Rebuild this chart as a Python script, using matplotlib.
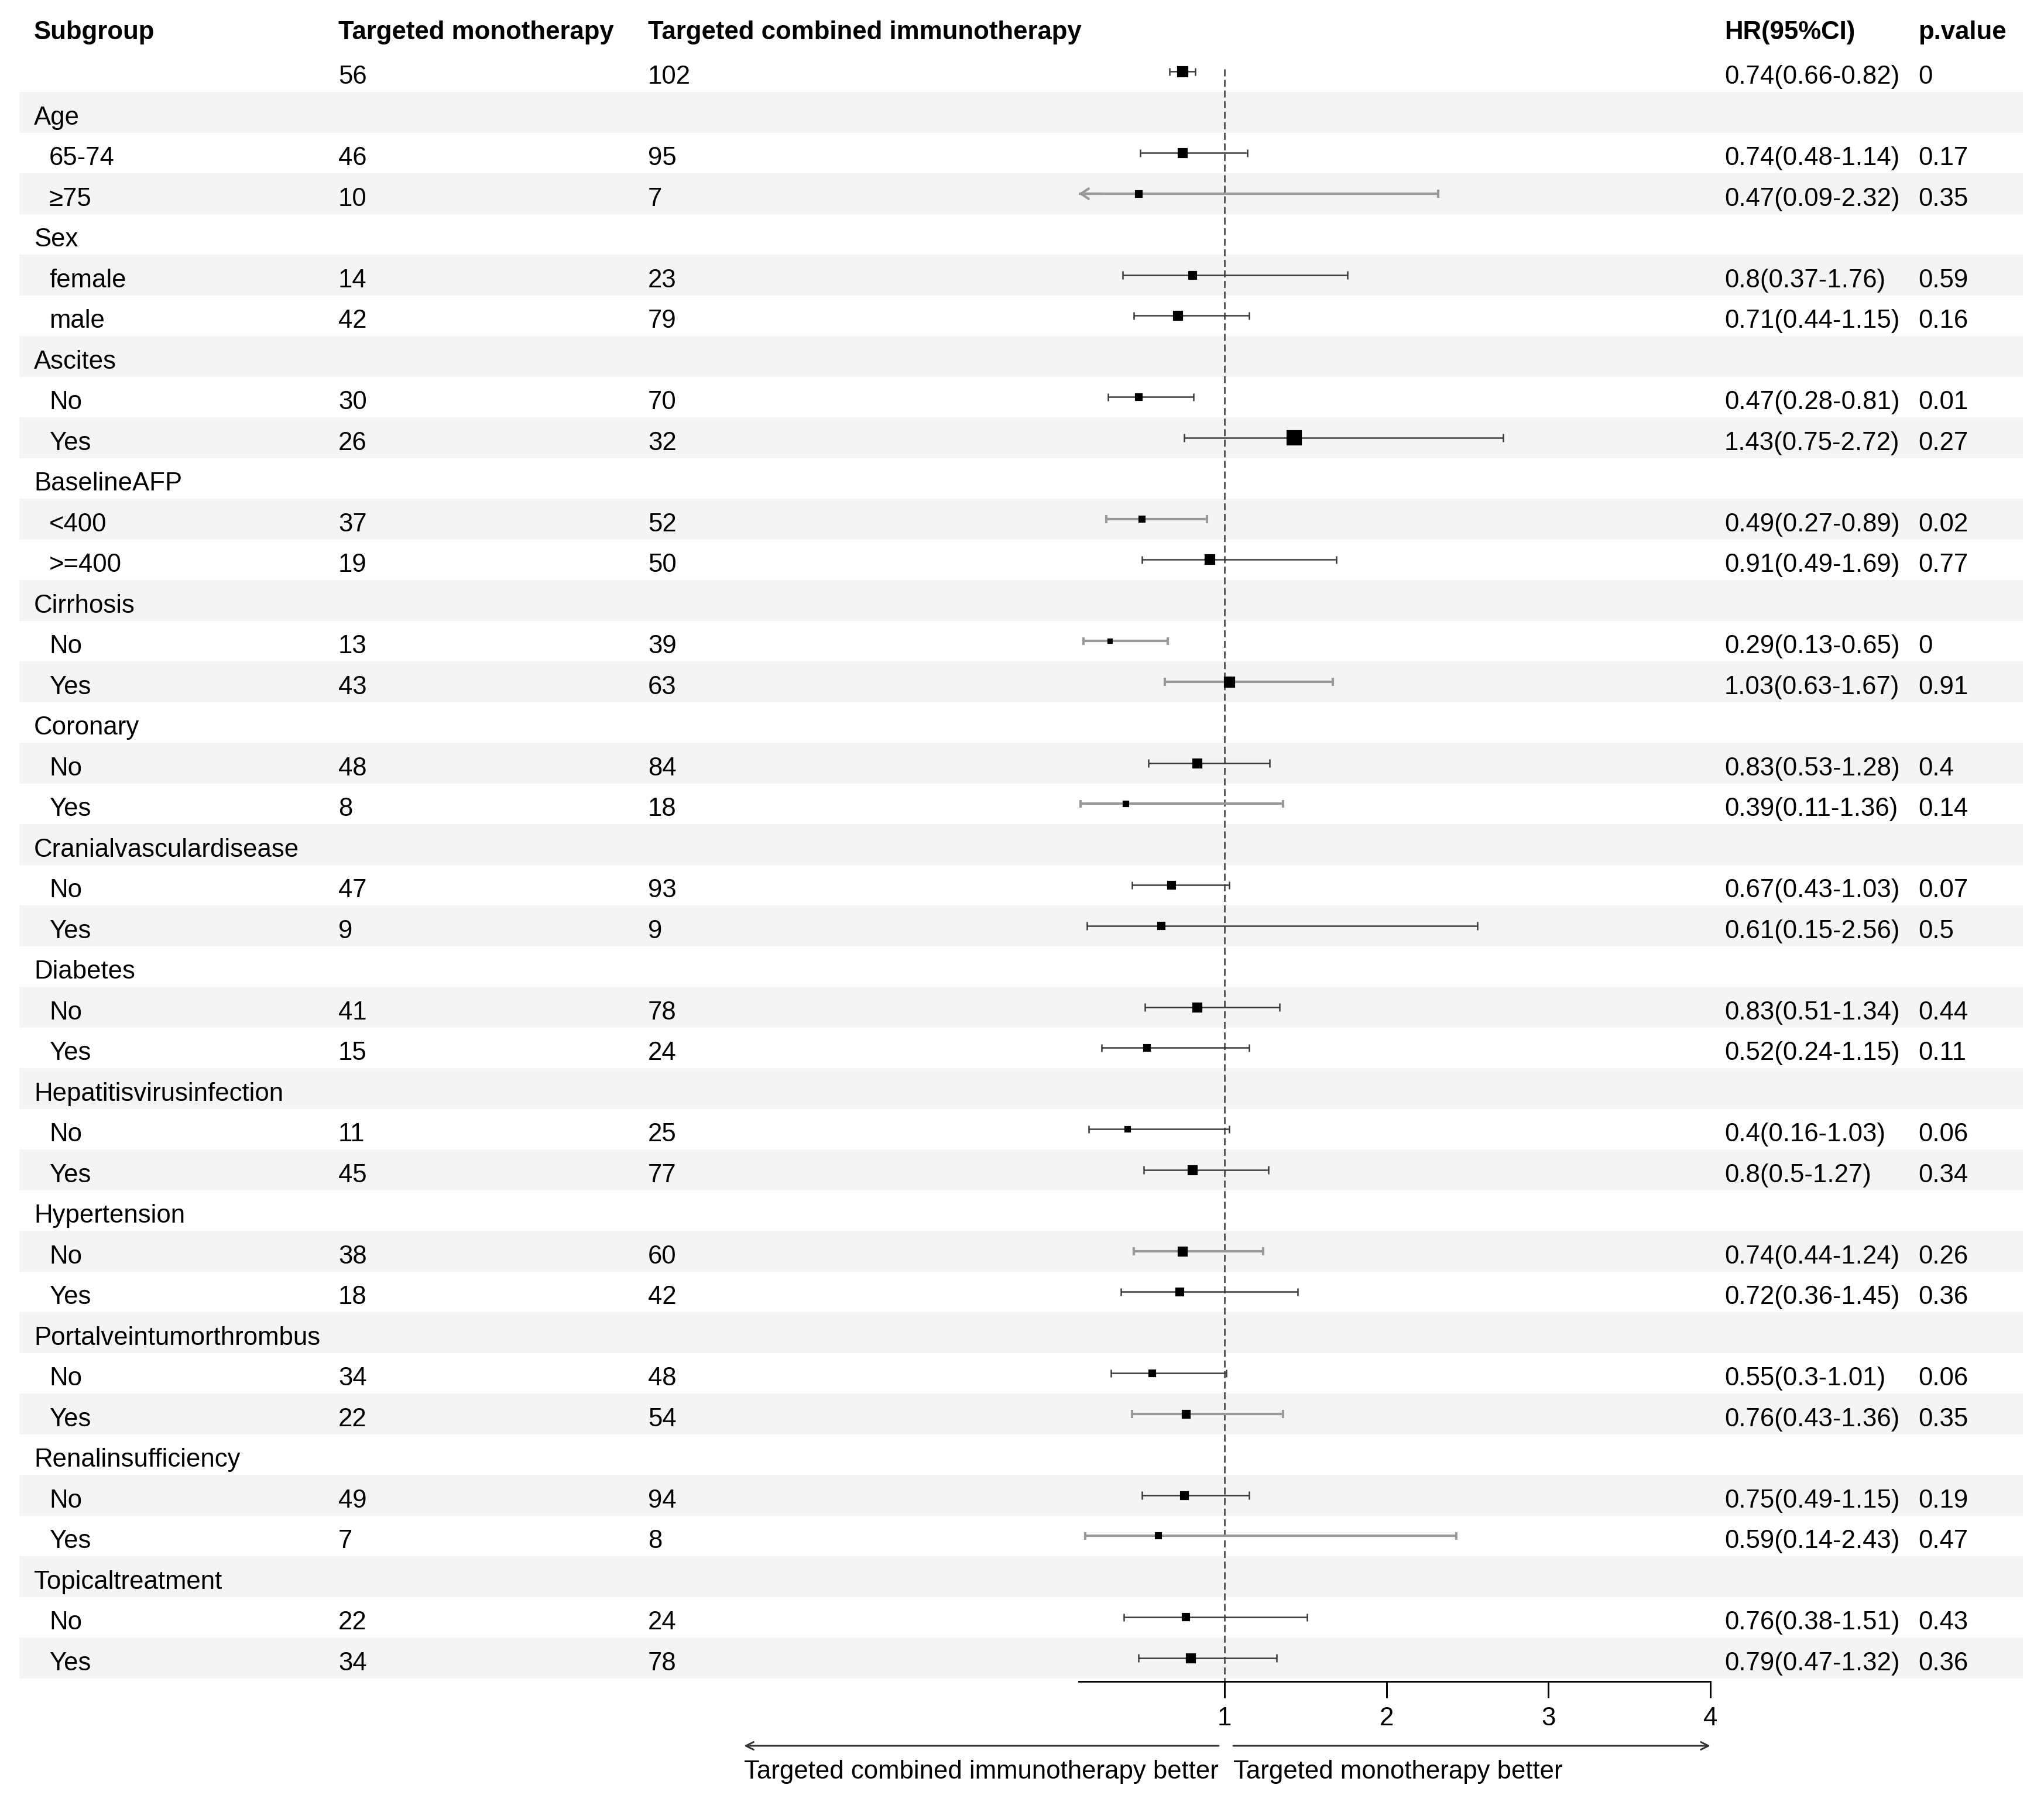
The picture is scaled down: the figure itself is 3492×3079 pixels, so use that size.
import matplotlib
matplotlib.use('Agg')
import matplotlib.pyplot as plt

plt.rcParams['font.family'] = ['Liberation Sans', 'DejaVu Sans']
plt.rcParams['font.size'] = 10.5

# ---- data ----
labels = ['', 'Age', '65-74', '≥75', 'Sex', 'female', 'male',
          'Ascites', 'No', 'Yes', 'BaselineAFP', '<400', '>=400',
          'Cirrhosis', 'No', 'Yes', 'Coronary', 'No', 'Yes',
          'Cranialvasculardisease', 'No', 'Yes', 'Diabetes', 'No', 'Yes',
          'Hepatitisvirusinfection', 'No', 'Yes', 'Hypertension', 'No', 'Yes',
          'Portalveintumorthrombus', 'No', 'Yes', 'Renalinsufficiency', 'No', 'Yes',
          'Topicaltreatment', 'No', 'Yes']
n_mono = [56, None, 46, 10, None, 14, 42, None, 30, 26, None, 37, 19,
          None, 13, 43, None, 48, 8, None, 47, 9, None, 41, 15,
          None, 11, 45, None, 38, 18, None, 34, 22, None, 49, 7, None, 22, 34]
n_combo = [102, None, 95, 7, None, 23, 79, None, 70, 32, None, 52, 50,
           None, 39, 63, None, 84, 18, None, 93, 9, None, 78, 24,
           None, 25, 77, None, 60, 42, None, 48, 54, None, 94, 8, None, 24, 78]
hr = [0.74, None, 0.74, 0.47, None, 0.8, 0.71, None, 0.47, 1.43, None, 0.49, 0.91,
      None, 0.29, 1.03, None, 0.83, 0.39, None, 0.67, 0.61, None, 0.83, 0.52,
      None, 0.4, 0.8, None, 0.74, 0.72, None, 0.55, 0.76, None, 0.75, 0.59, None, 0.76, 0.79]
ci_lo = [0.66, None, 0.48, 0.09, None, 0.37, 0.44, None, 0.28, 0.75, None, 0.27, 0.49,
         None, 0.13, 0.63, None, 0.53, 0.11, None, 0.43, 0.15, None, 0.51, 0.24,
         None, 0.16, 0.5, None, 0.44, 0.36, None, 0.3, 0.43, None, 0.49, 0.14, None, 0.38, 0.47]
ci_hi = [0.82, None, 1.14, 2.32, None, 1.76, 1.15, None, 0.81, 2.72, None, 0.89, 1.69,
         None, 0.65, 1.67, None, 1.28, 1.36, None, 1.03, 2.56, None, 1.34, 1.15,
         None, 1.03, 1.27, None, 1.24, 1.45, None, 1.01, 1.36, None, 1.15, 2.43, None, 1.51, 1.32]
p_value = [0, None, 0.17, 0.35, None, 0.59, 0.16, None, 0.01, 0.27, None, 0.02, 0.77,
           None, 0, 0.91, None, 0.4, 0.14, None, 0.07, 0.5, None, 0.44, 0.11,
           None, 0.06, 0.34, None, 0.26, 0.36, None, 0.06, 0.35, None, 0.19, 0.47, None, 0.43, 0.36]

# box size (px) and line shade for each estimate row, as drawn in the original
box_px = [15, 13, 9, 11, 13, 9, 23, 8, 14, 5, 15, 13, 7, 11, 10,
          13, 9, 7, 13, 13, 11, 9, 11, 11, 8, 10, 13]
light = [0, 0, 1, 0, 0, 0, 0, 1, 0, 1, 1, 0, 1, 0, 0,
         0, 0, 0, 0, 1, 0, 0, 1, 0, 1, 0, 0]

W, H, DPI = 3492, 3079, 300
ROW0, ROWH = 122.5, 69.5          # px centre of first row, row pitch


def row(px):
    return (px - ROW0) / ROWH


XMIN, XMAX = 0.1, 4
fig = plt.figure(figsize=(W / DPI, H / DPI), dpi=DPI)

tab = fig.add_axes([0, 0, 1, 1])
tab.set_xlim(0, W)
tab.set_ylim(row(H), row(0))
tab.axis('off')

# shaded bands
for i in range(len(labels)):
    if i % 2 == 1:
        tab.axhspan(i - 0.5, i + 0.5, xmin=33 / W, xmax=3456 / W,
                    color='#F3F5F5', lw=0, zorder=0)

# header
hy = row(67)
for x, s in [(58, 'Subgroup'), (578, 'Targeted monotherapy'),
             (1107, 'Targeted combined immunotherapy'),
             (2946, 'HR(95%CI)'), (3277, 'p.value')]:
    tab.text(x, hy, s, fontweight='bold', va='baseline', ha='left')

base = 0.30
for i, lab in enumerate(labels):
    y = i + base
    x_lab = 84 if hr[i] is not None else 58
    tab.text(x_lab, y, lab, va='baseline')
    if n_mono[i] is not None:
        tab.text(578, y, str(n_mono[i]), va='baseline')
        tab.text(1107, y, str(n_combo[i]), va='baseline')
    if hr[i] is not None:
        tab.text(2946, y, f'{hr[i]:g}({ci_lo[i]:g}-{ci_hi[i]:g})', va='baseline')
        tab.text(3277, y, f'{p_value[i]:g}', va='baseline')

# forest panel
ax = fig.add_axes([1843 / W, 0, 1079 / W, 1])
ax.patch.set_visible(False)
ax.set_xlim(XMIN, XMAX)
ax.set_ylim(row(H), row(0))
axis_row = row(2873)
for s in ['left', 'right', 'top']:
    ax.spines[s].set_visible(False)
ax.spines['bottom'].set_position(('data', axis_row))
ax.spines['bottom'].set_linewidth(0.7)
ax.set_yticks([])
ax.set_xticks([1, 2, 3, 4])
ax.set_xticklabels(['1', '2', '3', '4'])
ax.tick_params(axis='x', direction='out', length=6.7, width=0.7, pad=3.6)

ax.vlines(1, row(118), axis_row, colors='#555555', linewidth=0.7,
          linestyles=(0, (4.1, 2.1)), zorder=1)

cap = 0.1
k = 0
for i in range(len(labels)):
    if hr[i] is None:
        continue
    col = '#999999' if light[k] else '#3a3a3a'
    lw = 1.0 if light[k] else 0.6
    lo = max(ci_lo[i], XMIN)
    ax.hlines(i, lo, ci_hi[i], colors=col, linewidth=lw, zorder=2)
    ax.vlines(ci_hi[i], i - cap, i + cap, colors=col, linewidth=lw, zorder=2)
    if ci_lo[i] < XMIN:
        ax.annotate('', xy=(XMIN, i), xytext=(XMIN + 0.15, i),
                    arrowprops=dict(arrowstyle='->,head_length=0.3,head_width=0.2',
                                    color=col, lw=lw, shrinkA=0, shrinkB=0),
                    annotation_clip=False)
    else:
        ax.vlines(lo, i - cap, i + cap, colors=col, linewidth=lw, zorder=2)
    ax.plot(hr[i], i, marker='s', color='black', markersize=box_px[k] * 72 / DPI,
            linestyle='none', zorder=3)
    k += 1

# direction arrows + labels under the axis
fig.canvas.draw()
rend = fig.canvas.get_renderer()
ty = row(3039)
ay = row(2983)
tl = tab.text(2082, ty, 'Targeted combined immunotherapy better', ha='right', va='baseline')
tr = tab.text(2107, ty, 'Targeted monotherapy better', ha='left', va='baseline')
bl = tl.get_window_extent(rend)
br = tr.get_window_extent(rend)
arrow = dict(arrowstyle='->,head_length=0.3,head_width=0.15', color='#333333',
             lw=0.7, shrinkA=0, shrinkB=0)
tab.annotate('', xy=(bl.x0, ay), xytext=(2082, ay), arrowprops=arrow)
tab.annotate('', xy=(max(br.x1, 2922), ay), xytext=(2107, ay), arrowprops=arrow)

fig.savefig('out.png', dpi=DPI)
